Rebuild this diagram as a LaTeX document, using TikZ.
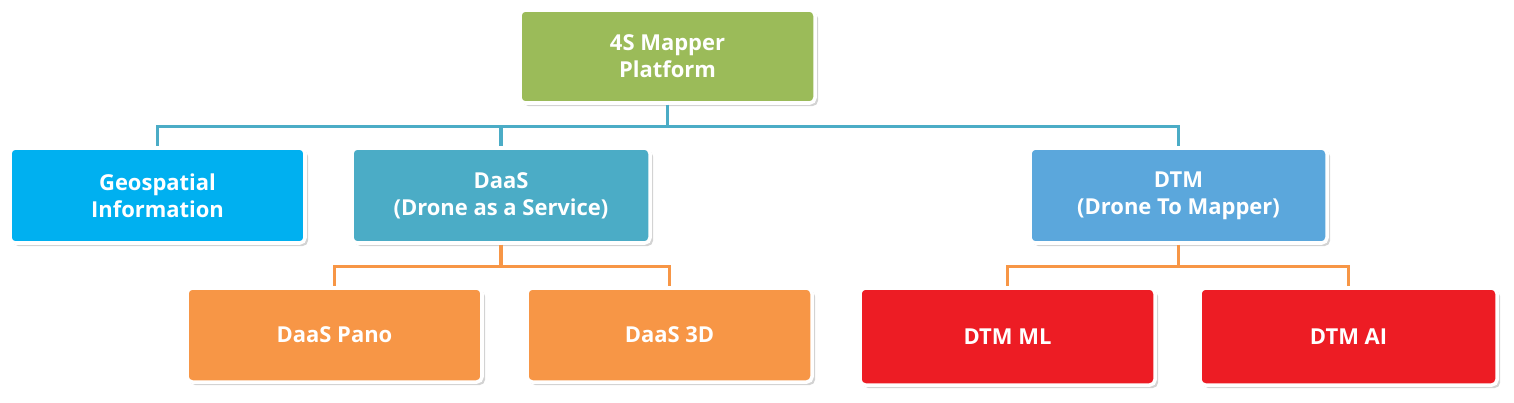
\documentclass[tikz,border=0pt]{standalone}
\usepackage{fontspec}
\setmainfont{Open Sans}
\usetikzlibrary{shadows}
\definecolor{topgreen}{HTML}{9BBB59}
\definecolor{geoblue}{HTML}{00B0F0}
\definecolor{daasteal}{HTML}{4BACC6}
\definecolor{dtmblue}{HTML}{5BA7DC}
\definecolor{orng}{HTML}{F79646}
\definecolor{rd}{HTML}{ED1C24}
\definecolor{tealline}{HTML}{4BACC6}
\begin{document}
\begin{tikzpicture}
    \tikzset{
        box/.style={
            draw = white,
            line width = 2pt,
            rounded corners = 3pt,
            drop shadow = {shadow xshift=0.6mm, shadow yshift=-0.6mm, opacity=0.35},
            text = white,
            font = \bfseries\fontsize{12.5}{15.5}\selectfont,
            align = center,
            inner sep = 0pt
        },
        tline/.style={draw = tealline, line width = 1.8pt},
        oline/.style={draw = orng, line width = 1.8pt}
    }
    \useasboundingbox (0,0) rectangle (30.28,8.04);

    \node[box, fill=topgreen, minimum width=5.9cm,  minimum height=1.86cm] (top)  at (13.35, 6.91) {4S Mapper\\Platform};
    \node[box, fill=geoblue,  minimum width=5.9cm,  minimum height=1.9cm]  (geo)  at (3.15, 4.13)  {Geospatial\\Information};
    \node[box, fill=daasteal, minimum width=5.96cm, minimum height=1.9cm]  (daas) at (10.02, 4.13) {DaaS\\(Drone as a Service)};
    \node[box, fill=dtmblue,  minimum width=5.94cm, minimum height=1.9cm]  (dtm)  at (23.57, 4.13) {DTM\\(Drone To Mapper)};
    \node[box, fill=orng,     minimum width=5.9cm,  minimum height=1.88cm] (pano) at (6.69, 1.34)  {DaaS Pano};
    \node[box, fill=orng,     minimum width=5.7cm,  minimum height=1.88cm] (d3)   at (13.39, 1.34) {DaaS 3D};
    \node[box, fill=rd,       minimum width=5.9cm,  minimum height=1.94cm] (ml)   at (20.15, 1.31) {DTM ML};
    \node[box, fill=rd,       minimum width=5.94cm, minimum height=1.94cm] (ai)   at (26.97, 1.31) {DTM AI};

    \draw[tline] (top.south) -- ++(0,-0.44) -| (geo.north);
    \draw[tline] (top.south) -- ++(0,-0.44) -| (daas.north);
    \draw[tline] (top.south) -- ++(0,-0.44) -| (dtm.north);
    \draw[oline] (daas.south) -- ++(0,-0.44) -| (pano.north);
    \draw[oline] (daas.south) -- ++(0,-0.44) -| (d3.north);
    \draw[oline] (dtm.south) -- ++(0,-0.44) -| (ml.north);
    \draw[oline] (dtm.south) -- ++(0,-0.44) -| (ai.north);
\end{tikzpicture}
\end{document}
